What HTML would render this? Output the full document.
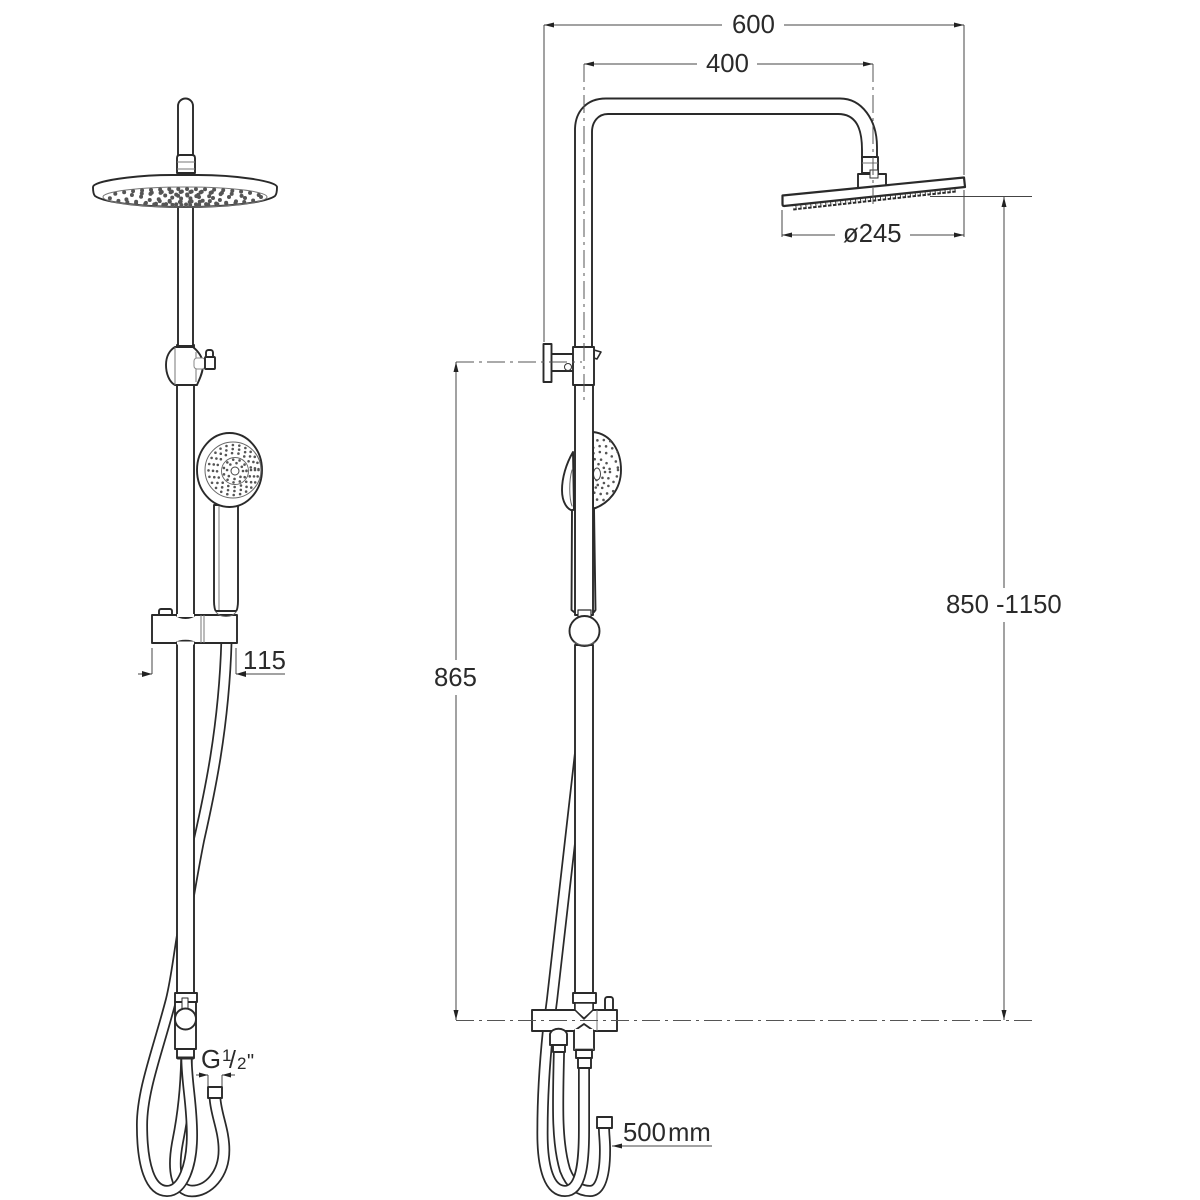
<!DOCTYPE html>
<html><head><meta charset="utf-8"><style>
html,body{margin:0;padding:0;background:#fff;width:1200px;height:1200px;overflow:hidden}
svg{display:block}
text{font-family:"Liberation Sans",sans-serif;font-size:25.7px;fill:#2a2a2a;font-kerning:none}
.o{fill:#fff;stroke:#2a2a2a;stroke-width:1.9;stroke-linejoin:round}
.n{fill:none;stroke:#2a2a2a;stroke-width:1.9;stroke-linecap:round}
.t{fill:none;stroke:#777;stroke-width:1}
.d{fill:none;stroke:#444;stroke-width:1}
.c{fill:none;stroke:#555;stroke-width:1;stroke-dasharray:18 5 3 5}
.a{fill:#222}
.hb{fill:none;stroke:#2a2a2a;stroke-linecap:butt}
.hw{fill:none;stroke:#fff;stroke-linecap:butt}
.dot{fill:none;stroke:#555;stroke-linecap:round}
</style></head><body>
<svg width="1200" height="1200" viewBox="0 0 1200 1200" xmlns="http://www.w3.org/2000/svg">
<defs>
<clipPath id="rain"><ellipse cx="185" cy="197" rx="82" ry="10"/></clipPath>
<clipPath id="rh"><path d="M593,432 C612,434 621,452 621,470 C621,490 608,504 593,509 Z"/></clipPath>
</defs>

<!-- LEFT VIEW -->
<!-- hoses -->
<path class="hb" stroke-width="12.5" d="M215,1098 C216,1115 224,1130 224,1150 C224,1175 208,1191 192,1191 C176,1191 172,1170 178,1140 C184,1110 186,1085 186.5,1059"/>
<path class="hw" stroke-width="9" d="M215,1098 C216,1115 224,1130 224,1150 C224,1175 208,1191 192,1191 C176,1191 172,1170 178,1140 C184,1110 186,1085 186.5,1059"/>
<path class="hb" stroke-width="12" d="M226.5,640 C224,730 208,800 199,840 C193,870 188,900 183,930 C178,960 176,980 171,1000 C158,1050 142,1090 142,1125 C142,1165 150,1191 167,1191 C183,1191 192,1165 192,1135 C192,1105 187,1085 186.5,1059"/>
<path class="hw" stroke-width="8.5" d="M226.5,640 C224,730 208,800 199,840 C193,870 188,900 183,930 C178,960 176,980 171,1000 C158,1050 142,1090 142,1125 C142,1165 150,1191 167,1191 C183,1191 192,1165 192,1135 C192,1105 187,1085 186.5,1059"/>
<rect class="o" x="208" y="1087" width="14" height="11"/>

<!-- rail -->
<rect class="o" x="177" y="345" width="17" height="650"/>
<path class="o" d="M178,173 V106 A7.5,7.5 0 0 1 193,106 V173 Z"/>
<rect x="178" y="206" width="15" height="140" class="o"/>
<path class="o" d="M177,173 V158 Q177,155 180,155 H192 Q195,155 195,158 V173 Z"/>
<line class="t" x1="177" y1="162" x2="195" y2="162"/>
<line class="t" x1="177" y1="169" x2="195" y2="169"/>
<!-- rain head -->
<path class="o" d="M93,187 C93,181 135,175 172,175 H198 C235,175 277,181 277,187 C277,190 277,194 275,196 C265,203 225,207 185,207 C145,207 105,203 95,196 C93,194 93,190 93,187 Z"/>
<ellipse cx="185" cy="197" rx="82" ry="10" fill="none" stroke="#777" stroke-width="1"/>
<g clip-path="url(#rain)">
<ellipse class="dot" stroke-width="4" stroke-dasharray="0 9" cx="185" cy="197" rx="76" ry="8"/>
<ellipse class="dot" stroke-width="4" stroke-dasharray="0 10" cx="185" cy="198" rx="60" ry="6.500"/>
<ellipse class="dot" stroke-width="4" stroke-dasharray="0 10" cx="185" cy="197" rx="44" ry="5"/>
<ellipse class="dot" stroke-width="4" stroke-dasharray="0 11" cx="185" cy="198" rx="28" ry="3.500"/>
<ellipse class="dot" stroke-width="4" stroke-dasharray="0 9" cx="185" cy="197" rx="14" ry="1.500"/>
</g>
<!-- swivel -->
<path class="o" d="M175,347 H193 C199,352 203,358 203,365 C203,373 199,380 197,385 H175 C169,382 166,373 166,365 C166,356 170,350 175,347 Z"/>
<line class="t" x1="175" y1="347" x2="175" y2="385"/>
<line class="t" x1="196" y1="352" x2="196" y2="382"/>
<rect x="194" y="358" width="11" height="11" rx="3" fill="#fff" stroke="#888" stroke-width="1"/>
<rect class="o" x="206" y="350" width="7" height="9" rx="2.500"/>
<rect class="o" x="205" y="357" width="10" height="12" rx="1"/>

<!-- hand shower front -->
<path class="o" d="M214,505 H238 V601 C238,606 237,611 236,611 H216 C215,611 214,606 214,601 Z"/>
<line class="t" x1="219" y1="505" x2="219" y2="610"/>
<ellipse cx="229.5" cy="470" rx="32.5" ry="37" class="o" stroke-width="2.4"/>
<circle cx="233" cy="470" r="28" fill="none" stroke="#666" stroke-width="1"/>
<g>
<circle class="dot" stroke-width="2.600" stroke-dasharray="0 6.500" cx="235" cy="471" r="8"/>
<circle class="dot" stroke-width="2.600" stroke-dasharray="0 6.500" cx="235" cy="471" r="11.500"/>
<circle cx="235" cy="471" r="13.5" fill="none" stroke="#666" stroke-width=".9"/>
<circle class="dot" stroke-width="2.600" stroke-dasharray="0 6.500" cx="234" cy="470" r="17"/>
<circle class="dot" stroke-width="2.600" stroke-dasharray="0 6.500" cx="234" cy="470" r="21"/>
<circle class="dot" stroke-width="2.600" stroke-dasharray="0 6.500" cx="233.500" cy="470" r="25"/>
</g>
<circle cx="235" cy="471" r="4" fill="#fff" stroke="#444" stroke-width="1"/>

<!-- bracket -->
<rect class="o" x="159" y="609" width="13" height="8" rx="2"/>
<path class="o" d="M152,615 H176 C180,619 191,619 195,615 H237 V643 H195 C191,640 180,640 176,643 H152 Z"/>
<rect x="177" y="614" width="17" height="3" fill="#fff"/>
<rect x="177" y="641.5" width="17" height="3" fill="#fff"/>
<line class="t" x1="201" y1="615" x2="201" y2="643"/><line class="t" x1="204" y1="615" x2="204" y2="643"/>
<path class="n" d="M216,612 C220,618 232,618 236,612" style="stroke-width:1;stroke:#666"/>

<!-- lower fittings -->
<rect class="o" x="175" y="1002" width="21" height="47"/>
<rect class="o" x="175" y="993" width="22" height="9"/>
<path class="o" d="M182,1002 V998 H188 V1010 H182 Z" style="stroke-width:1"/>
<circle class="o" cx="185.500" cy="1019" r="10.500"/>
<rect class="o" x="177" y="1049" width="17" height="9"/>
<line class="n" x1="178" y1="1058" x2="193" y2="1058" style="stroke-width:3"/>

<!-- left dims -->
<line class="d" x1="152" y1="648" x2="152" y2="674"/>
<line class="d" x1="138" y1="674" x2="152" y2="674"/>
<polygon class="a" points="152,674 142,671 142,677"/>
<line class="d" x1="236" y1="648" x2="236" y2="674"/>
<line class="d" x1="236" y1="674" x2="285" y2="674"/>
<polygon class="a" points="236,674 246,671 246,677"/>
<text x="243" y="669">115</text>

<line class="d" x1="208" y1="1075" x2="208" y2="1086"/>
<line class="d" x1="222" y1="1075" x2="222" y2="1086"/>
<line class="d" x1="196" y1="1075" x2="208" y2="1075"/>
<line class="d" x1="222" y1="1075" x2="235" y2="1075"/>
<polygon class="a" points="208,1075 199,1072.500 199,1077.500"/>
<polygon class="a" points="222,1075 231,1072.500 231,1077.500"/>
<text x="201" y="1068">G</text>
<text x="222" y="1061" style="font-size:17px">1</text>
<text x="229" y="1068" style="font-size:25px">/</text>
<text x="237" y="1069" style="font-size:17px">2</text>
<text x="247" y="1068" style="font-size:20px">"</text>

<!-- RIGHT VIEW -->
<!-- hoses -->
<path class="hb" stroke-width="12" d="M559,1050 C558,1100 556,1140 565,1170 C572,1188 582,1191 590,1191 C602,1191 605,1170 605,1150 C605,1140 604,1135 604,1128"/>
<path class="hw" stroke-width="8.500" d="M559,1050 C558,1100 556,1140 565,1170 C572,1188 582,1191 590,1191 C602,1191 605,1170 605,1150 C605,1140 604,1135 604,1128"/>
<path class="hb" stroke-width="12" d="M581,745 L552,1000 L548,1031 C544,1070 542.500,1100 542.500,1130 C542,1170 550,1191 565,1191 C582,1191 584,1160 584,1130 L584,1060"/>
<path class="hw" stroke-width="8.500" d="M581,745 L552,1000 L548,1031 C544,1070 542.500,1100 542.500,1130 C542,1170 550,1191 565,1191 C582,1191 584,1160 584,1130 L584,1060"/>
<rect class="o" x="597" y="1117" width="15" height="11"/>

<!-- hand shower side -->
<path class="o" d="M573,452 C566,464 562,478 562,490 C562,502 567,510 574,511 Z"/>
<path class="n" d="M572,470 C569,480 569,498 572,506" style="stroke-width:1;stroke:#666"/>
<path class="o" d="M593,432 C612,434 621,452 621,470 C621,490 608,504 593,509 Z"/>
<path class="o" d="M572,510 L571.500,610 L574,612 H594 L595.500,610 L594,508 Z"/>
<g clip-path="url(#rh)">
<circle class="dot" stroke-width="2.600" stroke-dasharray="0 6.500" cx="597" cy="472" r="8"/>
<circle class="dot" stroke-width="2.600" stroke-dasharray="0 6.500" cx="597" cy="472" r="13"/>
<circle class="dot" stroke-width="2.600" stroke-dasharray="0 6.500" cx="600" cy="470" r="18"/>
<circle class="dot" stroke-width="2.600" stroke-dasharray="0 6.500" cx="602" cy="470" r="24"/>
<circle class="dot" stroke-width="2.600" stroke-dasharray="0 6.500" cx="602" cy="470" r="30"/>
<ellipse cx="597" cy="474" rx="3.500" ry="6" fill="#fff" stroke="#444" stroke-width="1"/>
</g>

<!-- rail -->
<rect class="o" x="575" y="385" width="18" height="230"/>
<rect class="o" x="575" y="645" width="18" height="350"/>
<path class="o" d="M575,348 V130 C575,112 586,98.500 606,98.500 H840 C862,98.500 877,120 877,147 V158 H862 V150 C862,128 856,114 838,114 H608 C598,114 592,122 592,132 V348 Z"/>
<!-- arm, flange, collar -->
<rect class="o" x="551" y="354" width="24" height="17"/>
<rect class="o" x="543.500" y="344" width="8" height="38"/>
<path class="o" d="M594,350 L601,352 L597,359 L594,358 Z" style="stroke-width:1.600"/>
<rect class="o" x="573" y="347" width="21" height="38"/>
<circle cx="568" cy="367" r="3.500" fill="#fff" stroke="#333" stroke-width="1"/>
<!-- ball -->
<path class="o" d="M578,610 H591 V618 H578 Z" style="stroke-width:1.200"/>
<circle class="o" cx="584.500" cy="631" r="15"/>
<path class="n" d="M574,642 C580,646 589,646 595,642" style="stroke-width:1;stroke:#666"/>

<!-- rain head side -->
<rect class="o" x="862" y="157" width="16" height="16"/>
<line class="t" x1="862" y1="163" x2="878" y2="163"/>
<path class="o" d="M858,191 V174 H886 V188 Z"/>
<rect x="870" y="170" width="8" height="8" fill="#fff" stroke="#333" stroke-width="1"/>
<line x1="793" y1="207.500" x2="956" y2="189.500" stroke="#2a2a2a" stroke-width="6" stroke-dasharray="3.500 1.500"/>
<line x1="793" y1="207" x2="956" y2="189" stroke="#fff" stroke-width="3" stroke-dasharray="2.500 2.500"/>
<path class="o" style="stroke-width:2.200" d="M782.500,195.500 L964,177.500 L965,187 L784,206 Q782.500,206 782.500,204 Z"/>

<!-- valve -->
<rect class="o" x="605" y="997" width="8" height="14" rx="2.500"/>
<rect class="o" x="575" y="1002" width="18" height="9"/>
<rect class="o" x="532" y="1010" width="85" height="21"/>
<line class="t" x1="597" y1="1010" x2="597" y2="1031"/>
<rect class="o" x="573" y="993" width="23" height="10"/>
<path class="o" style="stroke-width:1.500" d="M575,1003 V1010 L584,1019 L593,1010 V1003 Z"/>
<path class="n" d="M575,1010 L584,1018 L593,1010" style="stroke-width:1"/>
<path class="o" d="M574,1031 V1050 H594 V1031 L584,1024 Z"/>
<rect x="575" y="1029" width="18" height="4" fill="#fff"/>
<line class="t" x1="574" y1="1049" x2="594" y2="1049"/>
<rect class="o" x="576" y="1050" width="16" height="8"/>
<rect class="o" x="578" y="1058" width="13" height="10"/>
<path class="o" d="M550,1045 V1034 C552,1027 565,1027 567,1034 V1045 Z"/>
<rect class="o" x="553" y="1045" width="12" height="7"/>
<line x1="554" y1="1052" x2="564" y2="1052" stroke="#2a2a2a" stroke-width="2"/>

<!-- right view centre lines -->
<line class="c" x1="584" y1="64" x2="584" y2="400"/>
<line class="c" x1="873" y1="64" x2="873" y2="204"/>
<line class="c" x1="456" y1="362" x2="582" y2="362"/>
<line class="c" x1="456" y1="1020.500" x2="1032" y2="1020.500"/>

<!-- right dims -->
<line class="d" x1="544" y1="25" x2="544" y2="342"/>
<line class="d" x1="964" y1="25" x2="964" y2="175"/>
<line class="d" x1="544" y1="25" x2="722" y2="25"/>
<line class="d" x1="784" y1="25" x2="964" y2="25"/>
<polygon class="a" points="544,25 554,22.500 554,27.500"/>
<polygon class="a" points="964,25 954,22.500 954,27.500"/>
<text x="732" y="33">600</text>

<line class="d" x1="584" y1="64" x2="697" y2="64"/>
<line class="d" x1="757" y1="64" x2="873" y2="64"/>
<polygon class="a" points="584,64 594,61.500 594,66.500"/>
<polygon class="a" points="873,64 863,61.500 863,66.500"/>
<text x="706" y="72">400</text>

<line class="d" x1="782" y1="210" x2="782" y2="237"/>
<line class="d" x1="964" y1="190" x2="964" y2="237"/>
<line class="d" x1="782" y1="235" x2="835" y2="235"/>
<line class="d" x1="910" y1="235" x2="964" y2="235"/>
<polygon class="a" points="782,235 792,232.500 792,237.500"/>
<polygon class="a" points="964,235 954,232.500 954,237.500"/>
<text x="843" y="242">ø245</text>

<line class="d" x1="930" y1="196.500" x2="1032" y2="196.500"/>
<line class="d" x1="1004" y1="197" x2="1004" y2="588"/>
<line class="d" x1="1004" y1="622" x2="1004" y2="1020"/>
<polygon class="a" points="1004,197 1001.500,207 1006.500,207"/>
<polygon class="a" points="1004,1020 1001.500,1010 1006.500,1010"/>
<text x="946" y="613">850 -1150</text>

<line class="d" x1="456" y1="362" x2="456" y2="660"/>
<line class="d" x1="456" y1="695" x2="456" y2="1020"/>
<polygon class="a" points="456,362 453.500,372 458.500,372"/>
<polygon class="a" points="456,1020 453.500,1010 458.500,1010"/>
<text x="434" y="686">865</text>

<line class="d" x1="612" y1="1146" x2="712" y2="1146"/>
<polygon class="a" points="612,1146 622,1143.500 622,1148.500"/>
<text x="623" y="1141">500</text>
<text x="668" y="1141">mm</text>
</svg>
</body></html>
